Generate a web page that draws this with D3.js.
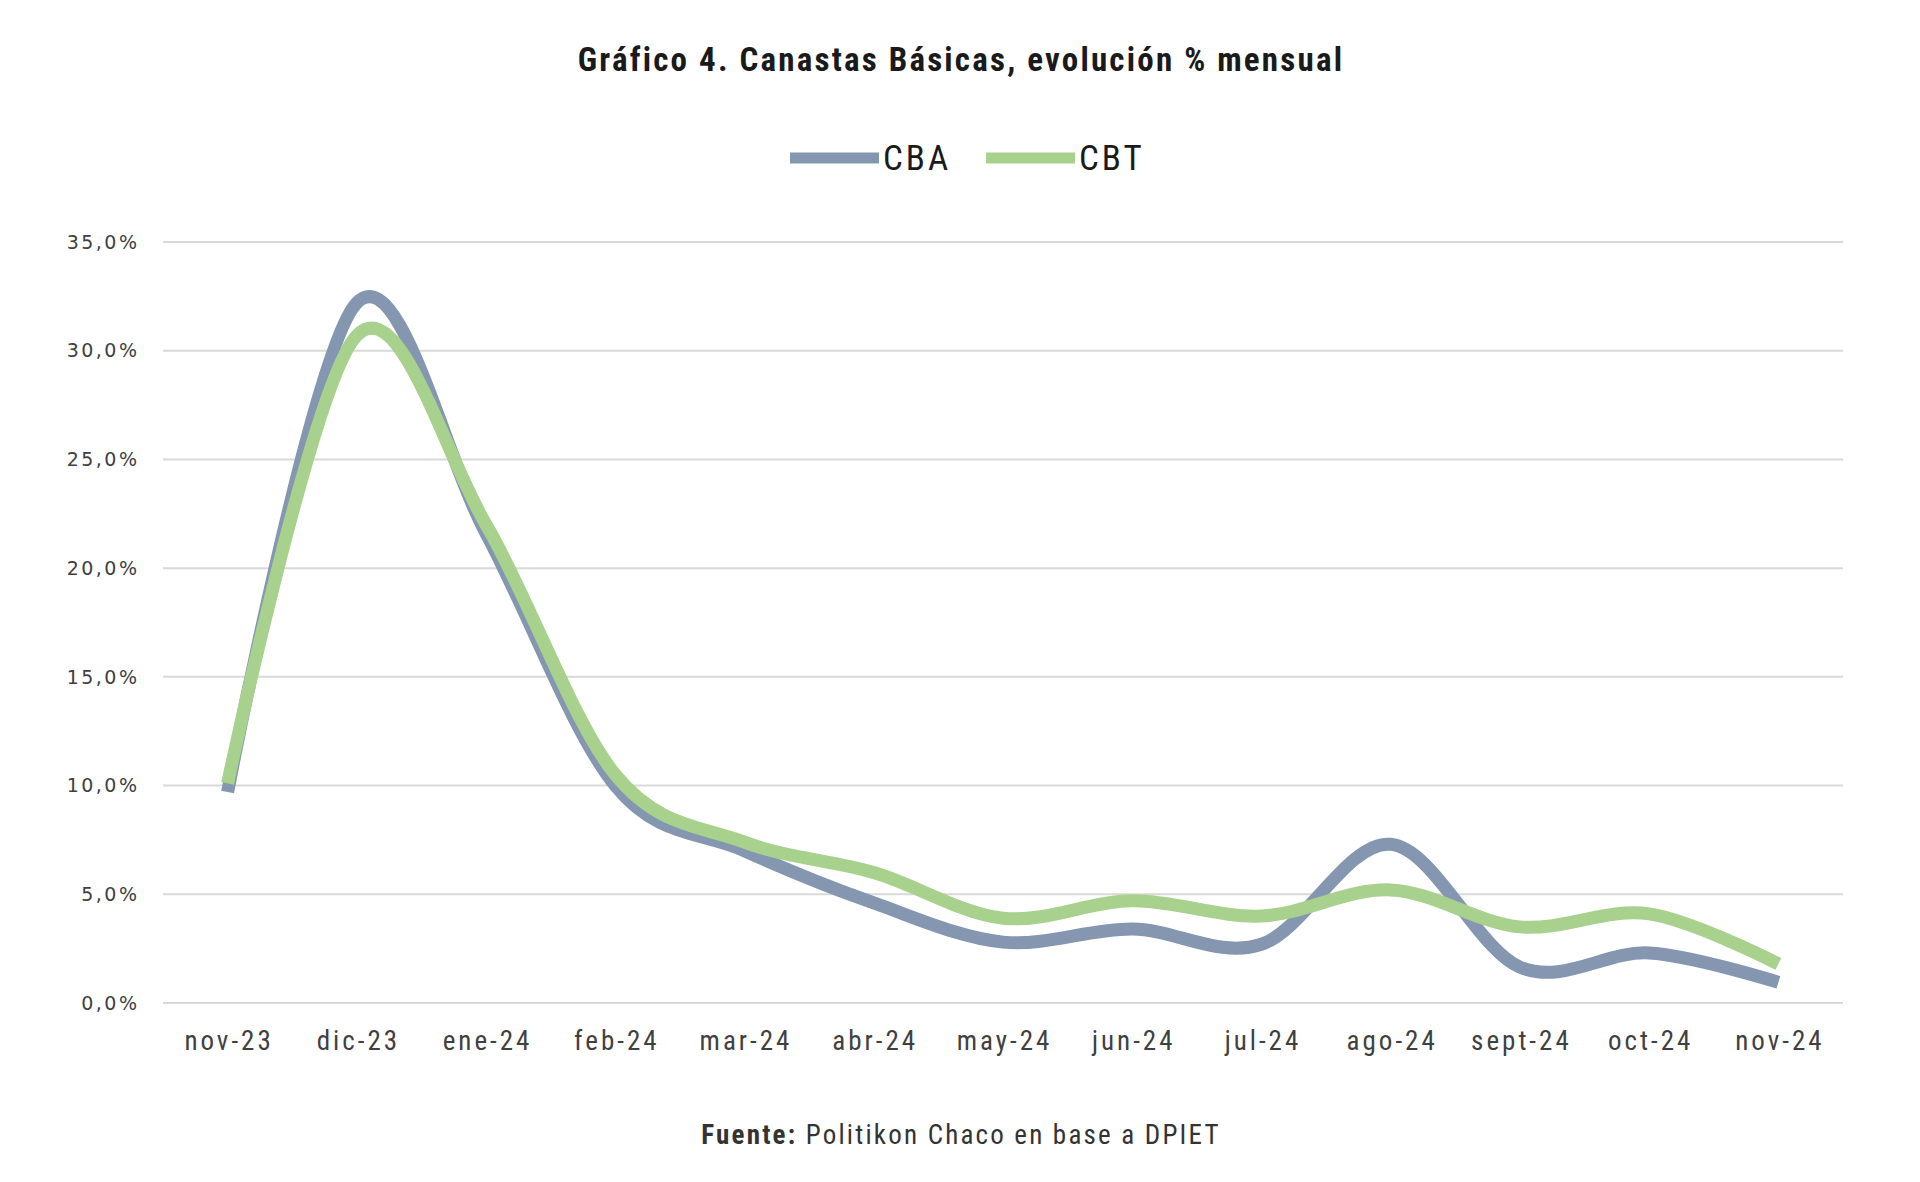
<!DOCTYPE html>
<html lang="es">
<head>
<meta charset="utf-8">
<title>Canastas Básicas</title>
<script src="https://cdn.jsdelivr.net/npm/d3@7"></script>
<style>
  body { margin: 0; background: #fff; }
  .narrow { font-family: "Roboto Condensed", "Liberation Sans Narrow", "DejaVu Sans Condensed", sans-serif; }
</style>
</head>
<body>
<div id="chart"></div>
<script>
// months on the x axis
const months = ["nov-23", "dic-23", "ene-24", "feb-24", "mar-24", "abr-24", "may-24",
                "jun-24", "jul-24", "ago-24", "sept-24", "oct-24", "nov-24"];
// monthly % change
const cba = [9.7, 32.2, 21.6, 10.0, 7.0, 4.6, 2.8, 3.4, 2.7, 7.3, 1.65, 2.3, 0.95];
const cbt = [10.1, 30.7, 22.0, 10.5, 7.4, 6.0, 3.9, 4.7, 4.0, 5.2, 3.5, 4.1, 1.8];
const yTicks = [0, 5, 10, 15, 20, 25, 30, 35];

const seriesNames = ["CBA", "CBT"];
const colors = { CBA: "#8496b0", CBT: "#a9d18e" };

const W = 1920, H = 1182;
const margin = { top: 242, right: 77, bottom: 179, left: 163 };

const svg = d3.select("#chart").append("svg")
    .attr("width", W).attr("height", H);

const x = d3.scalePoint()
    .domain(months)
    .range([margin.left, W - margin.right])
    .padding(0.5);

const y = d3.scaleLinear()
    .domain([0, 35])
    .range([H - margin.bottom, margin.top]);

// gridlines
svg.append("g")
    .selectAll("line")
    .data(yTicks)
    .join("line")
    .attr("x1", margin.left).attr("x2", W - margin.right)
    .attr("y1", d => y(d)).attr("y2", d => y(d))
    .attr("stroke", "#d9d9d9")
    .attr("stroke-width", 2);

// y labels (letter-spacing also trails the last glyph, so shift x by it)
const fmt = d => d.toFixed(1).replace(".", ",") + "%";
svg.append("g")
    .selectAll("text")
    .data(yTicks)
    .join("text")
    .attr("x", 137 + 2.5)
    .attr("y", d => y(d))
    .attr("dy", "0.35em")
    .attr("text-anchor", "end")
    .style("font-family", "DejaVu Sans, sans-serif")
    .style("font-size", "19px")
    .style("letter-spacing", "2.5px")
    .style("fill", "#404040")
    .text(fmt);

// x labels
svg.append("g")
    .selectAll("text")
    .data(months)
    .join("text")
    .attr("class", "narrow")
    .attr("x", d => x(d) + 1.5)
    .attr("y", 1041)
    .attr("dy", "0.35em")
    .attr("text-anchor", "middle")
    .style("font-size", "27px")
    .style("letter-spacing", "3px")
    .style("fill", "#404040")
    .text(d => d);

// lines
const line = d3.line()
    .x((d, i) => x(months[i]))
    .y(d => y(d))
    .curve(d3.curveCatmullRom.alpha(0));

svg.append("path")
    .datum(cba)
    .attr("d", line)
    .attr("fill", "none")
    .attr("stroke", colors.CBA)
    .attr("stroke-width", 13);

svg.append("path")
    .datum(cbt)
    .attr("d", line)
    .attr("fill", "none")
    .attr("stroke", colors.CBT)
    .attr("stroke-width", 13);

// title
svg.append("text")
    .attr("class", "narrow")
    .attr("x", 961).attr("y", 59)
    .attr("dy", "0.35em")
    .attr("text-anchor", "middle")
    .style("font-size", "33px")
    .style("font-weight", "bold")
    .style("letter-spacing", "2.2px")
    .style("fill", "#1a1a1a")
    .text("Gráfico 4. Canastas Básicas, evolución % mensual");

// legend
const legend = svg.append("g");
const legendX = { CBA: 790, CBT: 986 };
seriesNames.forEach(name => {
    legend.append("line")
        .attr("x1", legendX[name]).attr("x2", legendX[name] + 89)
        .attr("y1", 158).attr("y2", 158)
        .attr("stroke", colors[name])
        .attr("stroke-width", 11);
    legend.append("text")
        .attr("class", "narrow")
        .attr("x", legendX[name] + 93).attr("y", 158)
        .attr("dy", "0.35em")
        .style("font-size", "35px")
        .style("letter-spacing", "3px")
        .style("fill", "#1a1a1a")
        .text(name);
});

// source
const src = svg.append("text")
    .attr("class", "narrow")
    .attr("x", 961).attr("y", 1135)
    .attr("dy", "0.35em")
    .attr("text-anchor", "middle")
    .style("font-size", "27px")
    .style("letter-spacing", "2.2px")
    .style("fill", "#333");
src.append("tspan").style("font-weight", "bold").text("Fuente:");
src.append("tspan").text(" Politikon Chaco en base a DPIET");
</script>
</body>
</html>
